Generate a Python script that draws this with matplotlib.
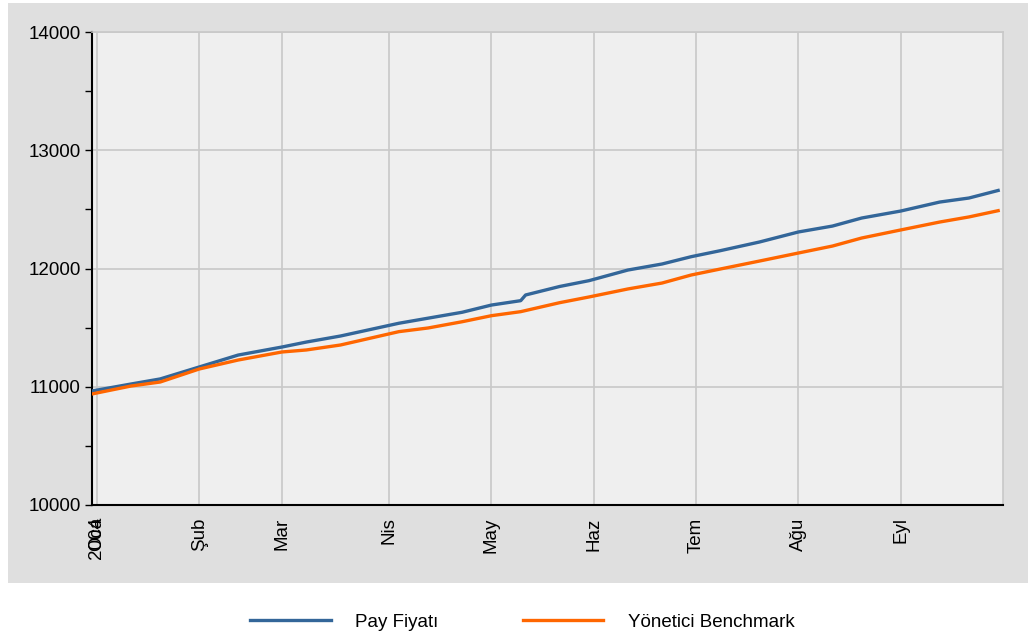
import matplotlib.pyplot as plt
from matplotlib.patches import Rectangle

plt.rcParams['font.family'] = ['Liberation Sans', 'DejaVu Sans']

# trading-day index (x) and values
days = [0, 8, 14, 22, 30, 39, 44, 51, 63, 69, 76, 82, 88, 89, 96, 102, 110,
        117, 123, 129, 137, 145, 152, 158, 166, 174, 180, 186]
pay_fiyati = [10964, 11023, 11066, 11167, 11268, 11336, 11378, 11429, 11537,
              11580, 11630, 11691, 11728, 11776, 11848, 11897, 11987, 12038,
              12100, 12151, 12224, 12309, 12359, 12427, 12486, 12562, 12596,
              12660]

bench_days = [0, 8, 14, 22, 30, 39, 44, 51, 63, 69, 76, 82, 88, 96, 102, 110,
              117, 123, 129, 137, 145, 152, 158, 166, 174, 180, 186]
benchmark = [10939, 11006, 11040, 11150, 11226, 11294, 11311, 11353, 11466,
             11497, 11550, 11601, 11635, 11711, 11759, 11827, 11877, 11945,
             11996, 12063, 12131, 12190, 12258, 12326, 12393, 12436, 12489]

month_pos = [1, 22, 39, 61, 82, 103, 124, 145, 166]
month_labels = ['2004', 'Şub', 'Mar', 'Nis', 'May', 'Haz', 'Tem', 'Ağu', 'Eyl']

blue = '#336699'
orange = '#ff6600'

fig = plt.figure(figsize=(10.28, 6.38), dpi=100)
fig.patch.set_facecolor('white')
fig.patches.append(Rectangle((0.0078, 0.0862), 0.9922, 0.909, transform=fig.transFigure,
                             facecolor='#dfdfdf', edgecolor='none', zorder=-10))

ax = fig.add_axes([0.0895, 0.2085, 0.8862, 0.7413])
ax.set_zorder(1)
ax.set_facecolor('#efefef')

ax.plot(days, pay_fiyati, color=blue, lw=2.4, label='Pay Fiyatı', zorder=3)
ax.plot(bench_days, benchmark, color=orange, lw=2.4, label='Yönetici Benchmark', zorder=3)

ax.set_xlim(0, 187)
ax.set_ylim(10000, 14000)
ax.set_yticks([10000, 11000, 12000, 13000, 14000])
ax.set_yticks([10500, 11500, 12500, 13500], minor=True)
ax.set_xticks(month_pos)
ax.set_xticklabels(month_labels, rotation=90, va='top', ha='center')
ax.text(month_pos[0], -0.025, 'Oca', rotation=90, va='top', ha='center', fontsize=13.5,
        transform=ax.get_xaxis_transform())

ax.tick_params(axis='y', which='both', length=5, width=1, color='black',
               labelsize=13.5, pad=3)
ax.tick_params(axis='x', length=0, labelsize=13.5, pad=9)

ax.grid(True, color='#c8c8c8', lw=1.2)
ax.set_axisbelow(True)
for s in ['top', 'right']:
    ax.spines[s].set_color('#c8c8c8')
    ax.spines[s].set_linewidth(1.2)
ax.spines['left'].set_color('black')
ax.spines['left'].set_linewidth(1.5)
ax.spines['bottom'].set_color('black')
ax.spines['bottom'].set_linewidth(1.5)

fig.legend(loc='center', bbox_to_anchor=(0.508, 0.025), ncol=2, frameon=False,
           fontsize=13.5, handlelength=4.3, handletextpad=1.3, columnspacing=4.5)

fig.savefig('out.png', dpi=100)
